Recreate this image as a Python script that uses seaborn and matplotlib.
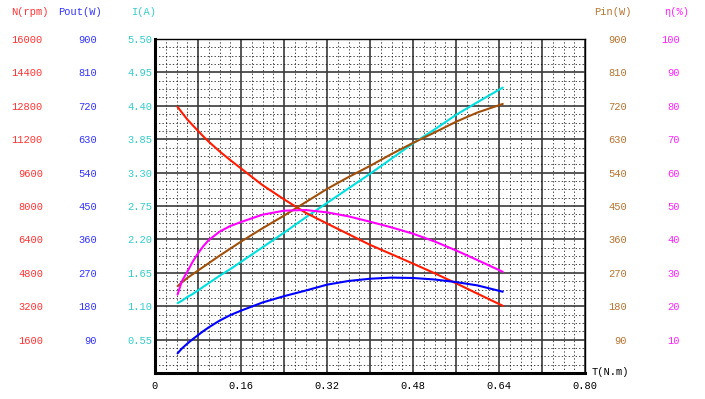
import numpy as np
import pandas as pd
import matplotlib
matplotlib.use("Agg")
import matplotlib.pyplot as plt
from matplotlib.ticker import MultipleLocator, FixedLocator, FuncFormatter
import seaborn as sns

# ---- data ----
torque = [0.042, 0.05, 0.06, 0.07, 0.08, 0.09, 0.10, 0.12, 0.14, 0.16, 0.20, 0.24, 0.28, 0.32,
          0.36, 0.40, 0.44, 0.48, 0.52, 0.56, 0.60, 0.647]
speed_rpm = [12750, 12480, 12150, 11870, 11600, 11330, 11080, 10620, 10200, 9800, 9000, 8320, 7680, 7160,
             6650, 6140, 5690, 5240, 4780, 4300, 3800, 3220]
current_a = [1.15, 1.19, 1.25, 1.30, 1.36, 1.42, 1.48, 1.60, 1.71, 1.83, 2.07, 2.31, 2.56, 2.80,
             3.04, 3.28, 3.53, 3.78, 4.01, 4.25, 4.46, 4.70]
pin_w = [234, 244, 256, 266, 276, 286, 296, 316, 335, 354, 390, 424, 460, 496,
         528, 558, 590, 620, 648, 677, 702, 725]
pout_w = [53, 66, 79, 91, 102, 113, 123, 141, 156, 168, 190, 207, 222, 238,
          248, 254, 257, 256, 252, 245, 236, 219]
eff_pct = [23.5, 27.5, 30.3, 33.3, 35.8, 38.0, 39.8, 42.3, 44.0, 45.2, 47.4, 48.6, 48.8, 48.1,
           46.9, 45.3, 43.6, 41.7, 39.4, 36.7, 33.8, 30.3]

x_ticks = [0, 0.16, 0.32, 0.48, 0.64, 0.80]
n_ticks = [1600, 3200, 4800, 6400, 8000, 9600, 11200, 12800, 14400, 16000]
pout_ticks = [90, 180, 270, 360, 450, 540, 630, 720, 810, 900]
i_ticks = [0.55, 1.10, 1.65, 2.20, 2.75, 3.30, 3.85, 4.40, 4.95, 5.50]
pin_ticks = [90, 180, 270, 360, 450, 540, 630, 720, 810, 900]
eff_ticks = [10, 20, 30, 40, 50, 60, 70, 80, 90, 100]

df = pd.DataFrame({"T": torque, "N": speed_rpm, "I": current_a,
                   "Pin": pin_w, "Pout": pout_w, "eff": eff_pct})

sns.set_style("white")
plt.rcParams["font.family"] = ["Liberation Mono", "DejaVu Sans Mono"]
plt.rcParams["font.size"] = 7.5

W, H = 705, 399
fig = plt.figure(figsize=(W / 100, H / 100), dpi=100)
L, R, T_, B = 155, 585, 39, 373
ax = fig.add_axes([L / W, 1 - B / H, (R - L) / W, (B - T_) / H])

ax.set_xlim(0, 0.80)
ax.set_ylim(0, 5.5)

# grid
ax.xaxis.set_major_locator(MultipleLocator(0.08))
ax.xaxis.set_minor_locator(MultipleLocator(0.02))
ax.yaxis.set_major_locator(FixedLocator(i_ticks))
ax.yaxis.set_minor_locator(MultipleLocator(0.1375))
ax.grid(which="minor", color="black", linestyle=(0, (2, 3)), linewidth=0.5)
ax.grid(which="major", color="#3a3a3a", linestyle="-", linewidth=1.2)
ax.set_axisbelow(True)

def xfmt(v, pos):
    for t in x_ticks:
        if abs(v - t) < 1e-6:
            return "0" if t == 0 else f"{t:.2f}"
    return ""
ax.xaxis.set_major_formatter(FuncFormatter(xfmt))
ax.yaxis.set_major_formatter(FuncFormatter(lambda v, p: f"{v:.2f}"))
ax.tick_params(axis="x", which="both", length=0, pad=6, labelsize=7.5, colors="black")
ax.tick_params(axis="y", which="both", length=0, pad=2, labelsize=7.5, labelcolor="#33CCCC")

for s in ["left", "bottom"]:
    ax.spines[s].set_linewidth(2.2)
    ax.spines[s].set_color("black")
for s in ["top", "right"]:
    ax.spines[s].set_linewidth(1.0)
    ax.spines[s].set_color("black")

def make_twin(lim, ticks, side, offset_px, color, fmt):
    a = ax.twinx()
    a.set_ylim(*lim)
    a.grid(False)
    a.yaxis.set_major_locator(FixedLocator(ticks))
    a.yaxis.set_minor_locator(FixedLocator([]))
    a.yaxis.set_major_formatter(FuncFormatter(fmt))
    for s in a.spines.values():
        s.set_visible(False)
    if side == "left":
        a.yaxis.tick_left()
        a.spines["left"].set_position(("outward", offset_px * 0.72))
    else:
        a.yaxis.tick_right()
        a.spines["right"].set_position(("outward", offset_px * 0.72))
    a.tick_params(axis="y", length=0, pad=0, labelsize=7.5, labelcolor=color)
    if side == "right":
        for lab in a.get_yticklabels():
            lab.set_horizontalalignment("right")
    a.set_ylabel("")
    return a

ax_n = make_twin((0, 16000), n_ticks, "left", 112, "#FF3333", lambda v, p: f"{int(v)}")
ax_pw = make_twin((0, 900), pout_ticks, "left", 58, "#3333FF", lambda v, p: f"{int(v)}")
ax_pin = make_twin((0, 900), pin_ticks, "right", 42, "#B8732E", lambda v, p: f"{int(v)}")
ax_eff = make_twin((0, 100), eff_ticks, "right", 95, "#FF22FF", lambda v, p: f"{int(v)}")

lw = 1.5
sns.lineplot(data=df, x="T", y="N", ax=ax_n, color="#FF1A00", lw=lw, estimator=None, sort=False)
sns.lineplot(data=df, x="T", y="Pin", ax=ax_pin, color="#A0500A", lw=lw, estimator=None, sort=False)
sns.lineplot(data=df, x="T", y="I", ax=ax, color="#00E0E0", lw=lw, estimator=None, sort=False)
sns.lineplot(data=df, x="T", y="eff", ax=ax_eff, color="#FF00FF", lw=lw, estimator=None, sort=False)
sns.lineplot(data=df, x="T", y="Pout", ax=ax_pw, color="#0000FF", lw=lw, estimator=None, sort=False)

for a in [ax, ax_n, ax_pw, ax_pin, ax_eff]:
    a.set_xlabel("")
    a.set_ylabel("")
    a.set_xlim(0, 0.80)

# axis titles
fs = 7.5
fig.text(30 / W, 1 - 12 / H, "N(rpm)", color="#FF3333", ha="center", va="center", fontsize=fs)
fig.text(80 / W, 1 - 12 / H, "Pout(W)", color="#3333FF", ha="center", va="center", fontsize=fs)
fig.text(144 / W, 1 - 12 / H, "I(A)", color="#33CCCC", ha="center", va="center", fontsize=fs)
fig.text(613 / W, 1 - 12 / H, "Pin(W)", color="#B8732E", ha="center", va="center", fontsize=fs)
fig.text(677 / W, 1 - 12 / H, "η(%)", color="#FF22FF", ha="center", va="center", fontsize=fs)
fig.text(592 / W, 1 - 372 / H, "T(N.m)", color="black", ha="left", va="center", fontsize=fs)

fig.savefig("out.png", dpi=100, facecolor="white")
